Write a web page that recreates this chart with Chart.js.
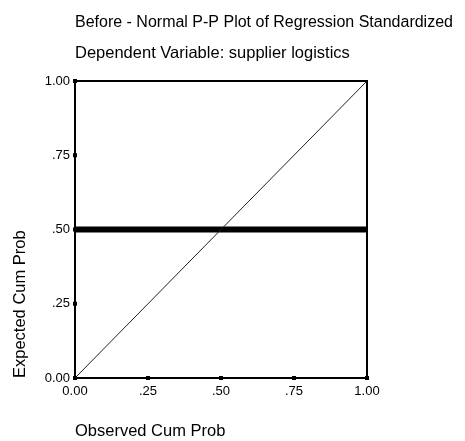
<!DOCTYPE html>
<html>
<head>
<meta charset="utf-8">
<script src="https://cdn.jsdelivr.net/npm/chart.js@4/dist/chart.umd.min.js"></script>
<style>
  html, body { margin: 0; padding: 0; background: #fff; }
  #pp { display: block; }
</style>
</head>
<body>
<canvas id="pp" width="465" height="441"></canvas>
<script>
// observed vs expected cumulative probability
const observedCumProb = [0, 1];
const diagonalExpected = [0, 1];
const residualExpected = [0.5, 0.5];
const tickValues = [0, 0.25, 0.5, 0.75, 1];
const xTickLabels = ['0.00', '.25', '.50', '.75', '1.00'];
const yTickLabels = ['0.00', '.25', '.50', '.75', '1.00'];
const titleLines = ['Before - Normal P-P Plot of Regression Standardized', 'Dependent Variable: supplier logistics'];

const FONT = '"Liberation Sans", Arial, sans-serif';

function toPoints(xs, ys) {
  return xs.map((x, i) => ({ x: x, y: ys[i] }));
}

function labelFor(list) {
  return (v) => {
    const i = tickValues.findIndex(t => Math.abs(t - v) < 1e-9);
    return i < 0 ? '' : list[i];
  };
}

// frame, tick squares and the two heading lines
const framePlugin = {
  id: 'frame',
  afterDraw(chart) {
    const { ctx, chartArea: a, scales: { x, y } } = chart;
    ctx.save();
    ctx.strokeStyle = '#000';
    ctx.lineWidth = 2;
    ctx.strokeRect(a.left, a.top, a.width, a.height);

    ctx.fillStyle = '#000';
    tickValues.forEach(v => {
      ctx.fillRect(x.getPixelForValue(v) - 2, a.bottom - 2, 4, 4);
      ctx.fillRect(a.left - 2, y.getPixelForValue(v) - 2, 4, 4);
    });

    ctx.textAlign = 'left';
    ctx.textBaseline = 'alphabetic';
    ctx.font = '16px ' + FONT;
    ctx.fillText(titleLines[0], a.left, 27);
    ctx.font = '16.5px ' + FONT;
    ctx.fillText(titleLines[1], a.left, 58);
    ctx.restore();
  }
};

new Chart(document.getElementById('pp'), {
  type: 'scatter',
  data: {
    datasets: [
      {
        label: 'Expected',
        data: toPoints(observedCumProb, diagonalExpected),
        showLine: true,
        borderColor: '#222',
        borderWidth: 1,
        pointRadius: 0
      },
      {
        label: 'Residual',
        data: toPoints(observedCumProb, residualExpected),
        showLine: true,
        borderColor: '#000',
        borderWidth: 6,
        borderCapStyle: 'butt',
        pointRadius: 0
      }
    ]
  },
  options: {
    responsive: false,
    animation: false,
    layout: { padding: { top: 81, right: 98, bottom: 0, left: 0 } },
    plugins: {
      legend: { display: false },
      tooltip: { enabled: false }
    },
    scales: {
      x: {
        type: 'linear',
        min: 0,
        max: 1,
        afterBuildTicks(s) { s.ticks = tickValues.map(v => ({ value: v })); },
        afterFit(s) { s.height = 63; },
        grid: { display: false },
        border: { display: false },
        ticks: {
          color: '#000',
          padding: -2,
          maxRotation: 0,
          font: { family: FONT, size: 13 },
          callback: labelFor(xTickLabels)
        },
        title: {
          display: true,
          text: 'Observed Cum Prob',
          align: 'start',
          color: '#000',
          font: { family: FONT, size: 16.5 },
          padding: { top: 0, bottom: 0 }
        }
      },
      y: {
        type: 'linear',
        min: 0,
        max: 1,
        afterBuildTicks(s) { s.ticks = tickValues.map(v => ({ value: v })); },
        afterFit(s) { s.width = 75; },
        grid: { display: false },
        border: { display: false },
        ticks: {
          color: '#000',
          padding: -3,
          font: { family: FONT, size: 13 },
          callback: labelFor(yTickLabels)
        },
        title: {
          display: true,
          text: 'Expected Cum Prob',
          align: 'start',
          color: '#000',
          font: { family: FONT, size: 16.5 },
          padding: { top: 11, bottom: 0 }
        }
      }
    }
  },
  plugins: [framePlugin]
});
</script>
</body>
</html>
